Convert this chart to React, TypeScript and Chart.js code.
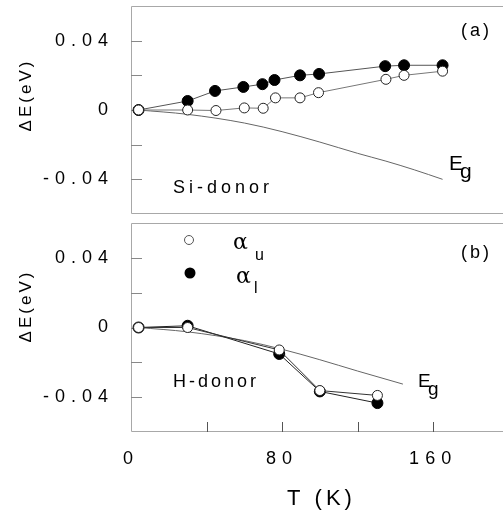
import React, { useEffect, useRef } from 'react';
import { Chart, registerables } from 'chart.js';

Chart.register(...registerables);

const FAMILY = '"Liberation Sans", Arial, Helvetica, sans-serif';

// ---- Panel (a): Si-donor ----
const siTempU = [4, 30, 45, 60, 70, 76.5, 89.5, 99.3, 135, 144.6, 165];
const siDeltaU = [0, 0, -0.0003, 0.0012, 0.001, 0.007, 0.007, 0.01, 0.0177, 0.02, 0.0224];
const siTempL = [4, 30, 44.5, 59.5, 69.6, 76, 89.5, 99.6, 134.6, 144.6, 165];
const siDeltaL = [0, 0.0052, 0.011, 0.0133, 0.0149, 0.0173, 0.02, 0.0208, 0.0253, 0.0258, 0.0258];
const egTempA = [4, 30, 60, 80, 100, 120, 135, 150, 165];
const egDeltaA = [0, -0.0025, -0.0075, -0.0125, -0.0185, -0.025, -0.0295, -0.0345, -0.04];

// ---- Panel (b): H-donor ----
const hTemp = [4, 30, 78.5, 100, 130.5];
const hDeltaU = [0, 0, -0.0129, -0.0362, -0.039];
const hDeltaL = [0, 0.001, -0.0152, -0.0367, -0.0434];
const egTempB = [4, 30, 60, 80, 100, 120, 144];
const egDeltaB = [0, -0.0025, -0.0075, -0.0125, -0.0185, -0.025, -0.0325];

// ---- Axes ----
const xTicks = [0, 80, 160];
const xTickLabels = ['0', '80', '160'];
const xMarks = [40, 80, 120, 160];
const yTicks = [-0.04, 0, 0.04];
const yTickLabels = ['-0.04', '0', '0.04'];
const yMarks = [-0.04, -0.02, 0, 0.02, 0.04];

const zip = (xs: number[], ys: number[]) => xs.map((x, i) => ({ x, y: ys[i] }));

const openStyle = {
  showLine: true,
  borderColor: '#777',
  borderWidth: 1,
  pointRadius: 5,
  pointBackgroundColor: '#ffffff',
  pointBorderColor: '#222',
  pointBorderWidth: 1,
};
const filledStyle = {
  showLine: true,
  borderColor: '#555',
  borderWidth: 1,
  pointRadius: 5.5,
  pointBackgroundColor: '#000',
  pointBorderColor: '#000',
  pointBorderWidth: 1,
};
const egStyle = {
  showLine: true,
  borderColor: '#666',
  borderWidth: 1,
  pointRadius: 0,
  cubicInterpolationMode: 'monotone',
};

function txt(ctx: CanvasRenderingContext2D, s: string, x: number, y: number, size: number, spacing: number, family = FAMILY) {
  ctx.save();
  ctx.font = `${size}px ${family}`;
  (ctx as any).letterSpacing = `${spacing}px`;
  ctx.fillStyle = '#000';
  ctx.textAlign = 'left';
  ctx.textBaseline = 'alphabetic';
  ctx.fillText(s, x, y);
  ctx.restore();
}

function yTitle(ctx: CanvasRenderingContext2D, cx: number, cy: number) {
  ctx.save();
  ctx.translate(cx, cy);
  ctx.rotate(-Math.PI / 2);
  ctx.font = `17px ${FAMILY}`;
  (ctx as any).letterSpacing = '3px';
  ctx.fillStyle = '#000';
  ctx.textAlign = 'center';
  ctx.textBaseline = 'middle';
  ctx.fillText('ΔE(eV)', 0, 0);
  ctx.restore();
}

function zeroPad(s: any) {
  s.paddingTop = 0;
  s.paddingBottom = 0;
  s.paddingLeft = 0;
  s.paddingRight = 0;
}

function panelPlugin(panel: 'a' | 'b') {
  const off = panel === 'a' ? 0 : 218;
  return {
    id: 'panel_' + panel,
    beforeDraw(chart: any) {
      chart.ctx.letterSpacing = '6px';
    },
    beforeDatasetsDraw(chart: any) {
      const ctx: CanvasRenderingContext2D = chart.ctx;
      const { left, top, right, bottom } = chart.chartArea;
      ctx.save();
      (ctx as any).letterSpacing = '0px';
      ctx.strokeStyle = '#a8a8a8';
      ctx.lineWidth = 1;
      ctx.beginPath();
      ctx.moveTo(right, top + 0.5);
      ctx.lineTo(left + 0.5, top + 0.5);
      ctx.lineTo(left + 0.5, bottom - 0.5);
      ctx.lineTo(right, bottom - 0.5);
      ctx.stroke();
      const ys = chart.scales.y;
      ctx.strokeStyle = '#888';
      yMarks.forEach((v) => {
        const py = Math.round(ys.getPixelForValue(v)) + 0.5;
        ctx.beginPath();
        ctx.moveTo(left, py);
        ctx.lineTo(left + 11, py);
        ctx.stroke();
      });
      if (panel === 'b') {
        const xs = chart.scales.x;
        ctx.strokeStyle = '#555';
        xMarks.forEach((v) => {
          const px = Math.round(xs.getPixelForValue(v)) + 0.5;
          ctx.beginPath();
          ctx.moveTo(px, bottom);
          ctx.lineTo(px, bottom - 10);
          ctx.stroke();
        });
      }
      ctx.restore();
    },
    afterDraw(chart: any) {
      const ctx: CanvasRenderingContext2D = chart.ctx;
      (ctx as any).letterSpacing = '0px';
      if (panel === 'a') {
        yTitle(ctx, 26, 95 - off);
        txt(ctx, '(a)', 461, 36 - off, 18, 3);
        txt(ctx, 'Si-donor', 173, 193 - off, 18, 4);
        txt(ctx, 'E', 449, 170 - off, 21, 0);
        txt(ctx, 'g', 460, 178 - off, 21, 0);
      } else {
        yTitle(ctx, 26, 306 - off);
        txt(ctx, '(b)', 461, 258 - off, 18, 3);
        txt(ctx, 'H-donor', 173, 387 - off, 18, 3);
        txt(ctx, 'E', 418, 387 - off, 19, 0);
        txt(ctx, 'g', 428, 395 - off, 19, 0);
        txt(ctx, 'T (K)', 287, 505 - off, 22, 4);
        // legend markers
        ctx.save();
        ctx.lineWidth = 1;
        ctx.strokeStyle = '#555';
        ctx.fillStyle = '#fff';
        ctx.beginPath();
        ctx.arc(189, 240 - off, 4.5, 0, Math.PI * 2);
        ctx.fill();
        ctx.stroke();
        ctx.fillStyle = '#000';
        ctx.beginPath();
        ctx.arc(190, 273 - off, 5.5, 0, Math.PI * 2);
        ctx.fill();
        ctx.restore();
        txt(ctx, 'α', 233, 249 - off, 22, 0, '"DejaVu Serif", serif');
        txt(ctx, 'u', 255, 260 - off, 16, 0);
        txt(ctx, 'α', 236, 283 - off, 22, 0, '"DejaVu Serif", serif');
        txt(ctx, 'l', 254, 293 - off, 16, 0);
      }
    },
  };
}

function makeConfig(panel: 'a' | 'b'): any {
  const isA = panel === 'a';
  const datasets = isA
    ? [
        { label: 'αu', data: zip(siTempU, siDeltaU), ...openStyle },
        { label: 'αl', data: zip(siTempL, siDeltaL), ...filledStyle },
        { label: 'Eg', data: zip(egTempA, egDeltaA), ...egStyle },
      ]
    : [
        { label: 'αu', data: zip(hTemp, hDeltaU), ...openStyle, borderColor: '#333' },
        { label: 'αl', data: zip(hTemp, hDeltaL), ...filledStyle, borderColor: '#222' },
        { label: 'Eg', data: zip(egTempB, egDeltaB), ...egStyle },
      ];
  return {
    type: 'scatter',
    data: { datasets },
    options: {
      responsive: false,
      maintainAspectRatio: false,
      animation: false,
      events: [],
      layout: {
        autoPadding: false,
        padding: isA ? { top: 6, bottom: 6, left: 0, right: 0 } : { top: 5, bottom: 0, left: 0, right: 0 },
      },
      plugins: { legend: { display: false }, tooltip: { enabled: false }, title: { display: false } },
      scales: {
        x: {
          type: 'linear',
          min: 0,
          max: 197,
          display: !isA,
          grid: { display: false, drawTicks: false },
          border: { display: false },
          afterBuildTicks: (s: any) => {
            s.ticks = xTicks.map((v) => ({ value: v }));
          },
          afterFit: (s: any) => {
            s.height = isA ? 0 : 80;
            zeroPad(s);
          },
          ticks: {
            font: { family: FAMILY, size: 18 },
            color: '#000',
            padding: 16,
            maxRotation: 0,
            autoSkip: false,
            callback: (_v: any, i: number) => xTickLabels[i],
          },
        },
        y: {
          type: 'linear',
          min: -0.06,
          max: 0.06,
          grid: { display: false, drawTicks: false },
          border: { display: false },
          afterBuildTicks: (s: any) => {
            s.ticks = yTicks.map((v) => ({ value: v }));
          },
          afterFit: (s: any) => {
            s.width = 131;
            zeroPad(s);
          },
          ticks: {
            font: { family: FAMILY, size: 18 },
            color: '#000',
            padding: 17,
            autoSkip: false,
            callback: (_v: any, i: number) => yTickLabels[i],
          },
        },
      },
    },
    plugins: [panelPlugin(panel)],
  };
}

export default function App() {
  const refA = useRef<HTMLCanvasElement>(null);
  const refB = useRef<HTMLCanvasElement>(null);
  useEffect(() => {
    const a = new Chart(refA.current as HTMLCanvasElement, makeConfig('a'));
    const b = new Chart(refB.current as HTMLCanvasElement, makeConfig('b'));
    return () => {
      a.destroy();
      b.destroy();
    };
  }, []);
  return (
    <div style={{ position: 'absolute', left: 0, top: 0, width: 503, height: 512, background: '#fff' }}>
      <canvas
        ref={refA}
        width={503}
        height={220}
        style={{ position: 'absolute', left: 0, top: 0, width: 503, height: 220, display: 'block' }}
      />
      <canvas
        ref={refB}
        width={503}
        height={294}
        style={{ position: 'absolute', left: 0, top: 218, width: 503, height: 294, display: 'block' }}
      />
    </div>
  );
}
